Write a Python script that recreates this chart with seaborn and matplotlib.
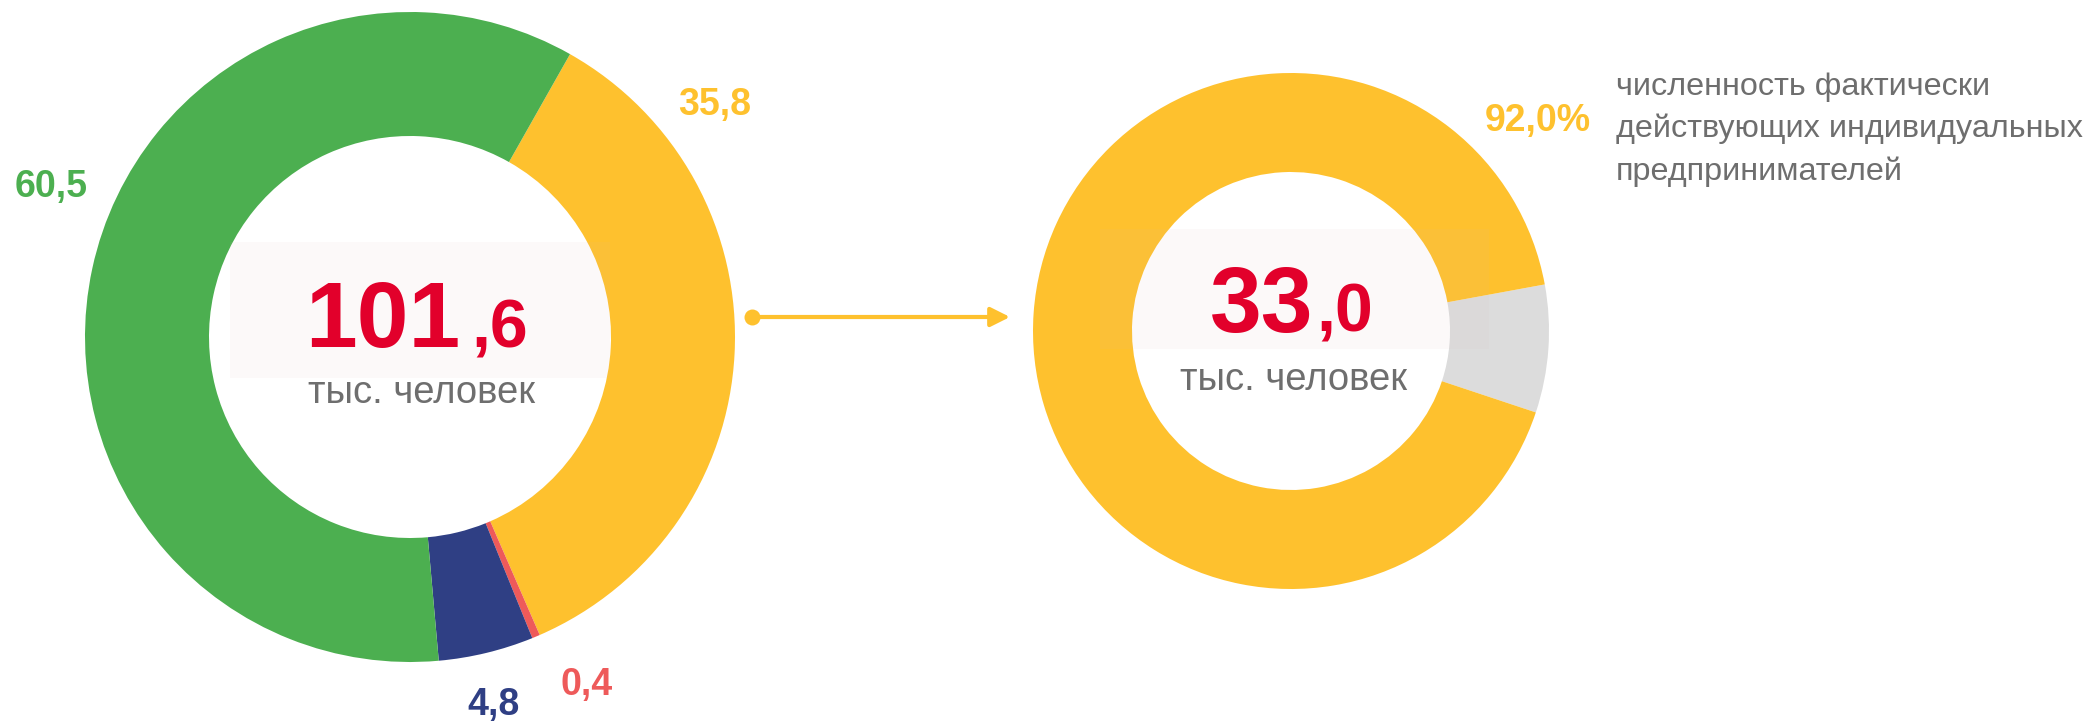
import matplotlib
matplotlib.use("Agg")
import matplotlib.pyplot as plt
from matplotlib.patches import Rectangle
import seaborn as sns

# ---------------- data ----------------
left_labels = ["35,8", "0,4", "4,8", "60,5"]
left_values = [35.8, 0.4, 4.8, 60.5]
left_colors = ["#fec12e", "#ee5a5a", "#2f3f84", "#4caf50"]
left_total_int = "101"
left_total_dec = ",6"

right_values = [8.0, 92.0]
right_colors = ["#dcdcdc", "#fec12e"]
right_total_int = "33"
right_total_dec = ",0"
right_share_label = "92,0%"

unit_label = "тыс. человек"
description = ["численность фактически",
               "действующих индивидуальных",
               "предпринимателей"]

# ---------------- style ----------------
sns.set_theme(style="white")
plt.rcParams["font.family"] = ["Liberation Sans", "DejaVu Sans"]

W, H = 2088, 721
fig = plt.figure(figsize=(W / 100, H / 100), dpi=100)
ax = fig.add_axes([0, 0, 1, 1])


def Y(y):
    return H - y


RED = "#e2002b"
GREY_TXT = "#6e6e6e"
YELLOW = "#fec12e"

# left donut
ax.pie(left_values, colors=left_colors, startangle=60.5, counterclock=False,
       radius=325, center=(410, Y(337)),
       wedgeprops=dict(width=124, linewidth=0))
# right donut
ax.pie(right_values, colors=right_colors, startangle=10.4, counterclock=False,
       radius=258, center=(1291, Y(331)),
       wedgeprops=dict(width=99, linewidth=0))

ax.set_xlim(0, W)
ax.set_ylim(0, H)
ax.set_aspect("equal")
ax.axis("off")

# faint boxes behind the totals
ax.add_patch(Rectangle((230, Y(378)), 380, 136, facecolor="#d8b8b8",
                       alpha=0.07, lw=0, zorder=3))
ax.add_patch(Rectangle((1100, Y(349)), 389, 120, facecolor="#d8b8b8",
                       alpha=0.07, lw=0, zorder=3))

# totals
ax.text(460, Y(347), left_total_int, color=RED, fontsize=67, fontweight="bold",
        ha="right", va="baseline", zorder=5)
ax.text(471, Y(347), left_total_dec, color=RED, fontsize=49, fontweight="bold",
        ha="left", va="baseline", zorder=5)
ax.text(421, Y(403), unit_label, color=GREY_TXT, fontsize=27.5,
        ha="center", va="baseline", zorder=5)

ax.text(1313, Y(332), right_total_int, color=RED, fontsize=67, fontweight="bold",
        ha="right", va="baseline", zorder=5)
ax.text(1316, Y(332), right_total_dec, color=RED, fontsize=49, fontweight="bold",
        ha="left", va="baseline", zorder=5)
ax.text(1294, Y(390), unit_label, color=GREY_TXT, fontsize=27.5,
        ha="center", va="baseline", zorder=5)

# slice labels
label_pos = [(715, 115), (587, 695), (494, 715), (51, 197)]
for lab, col, (x, y) in zip(left_labels, left_colors, label_pos):
    ax.text(x, Y(y), lab, color=col, fontsize=27, fontweight="bold",
            ha="center", va="baseline", zorder=5)

ax.text(1538, Y(131), right_share_label, color=YELLOW, fontsize=27,
        fontweight="bold", ha="center", va="baseline", zorder=5)

for i, line in enumerate(description):
    ax.text(1616, Y(95 + 42.5 * i), line, color=GREY_TXT, fontsize=23.3,
            ha="left", va="baseline", zorder=5)

# arrow
ax.plot([752], [Y(317)], marker="o", markersize=11.5, color=YELLOW, zorder=5,
        markeredgewidth=0)
ax.annotate("", xy=(1010, Y(317)), xytext=(752, Y(317)),
            arrowprops=dict(arrowstyle="-|>", color=YELLOW, lw=3.0,
                            mutation_scale=29, shrinkA=0, shrinkB=0),
            zorder=5)

fig.savefig("out.png", dpi=100)
